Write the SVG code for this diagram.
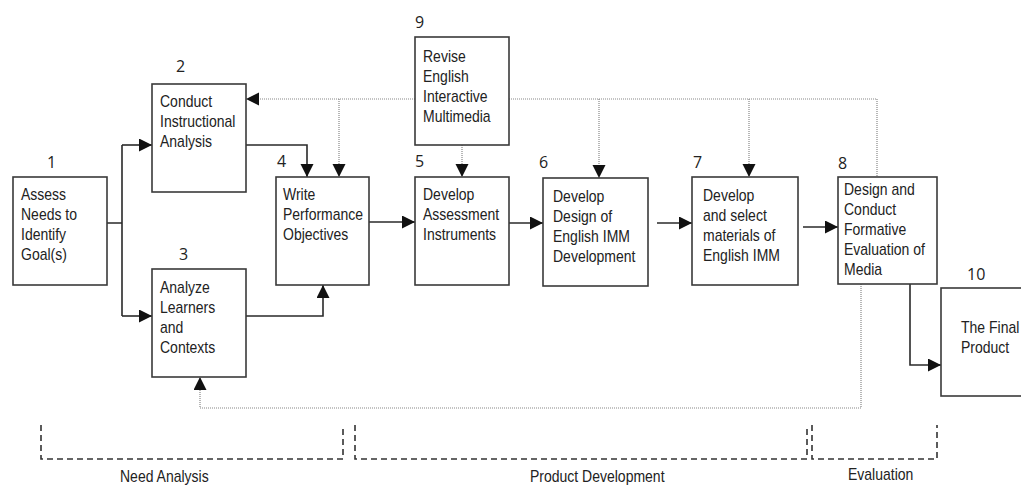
<svg xmlns="http://www.w3.org/2000/svg" width="1021" height="486" viewBox="0 0 1021 486">
<style>
.box{fill:#fff;stroke:#3a3a3a;stroke-width:1.6}
.t{font-family:"Liberation Sans",Arial,sans-serif;font-size:14px;fill:#222}
.n{font-family:"Open Sans","DejaVu Sans",sans-serif;font-size:16px;fill:#222}
.solid{fill:none;stroke:#2a2a2a;stroke-width:1.6}
.dot{fill:none;stroke:#888;stroke-width:1.2;stroke-dasharray:1 1}
.dash{fill:none;stroke:#333;stroke-width:1.6;stroke-dasharray:6 4}
</style>
<defs>
<marker id="ah" markerUnits="userSpaceOnUse" markerWidth="14" markerHeight="14" refX="13" refY="6.5" orient="auto">
<path d="M0,0 L13,6.5 L0,13 Z" fill="#111"/>
</marker>
</defs>
<rect width="1021" height="486" fill="#fff"/>
<g id="connectors">
<path class="solid" d="M107,223 H122 M122,145 V316"/>
<path class="solid" d="M122,145 H152" marker-end="url(#ah)"/>
<path class="solid" d="M122,316 H152" marker-end="url(#ah)"/>
<path class="solid" d="M246,145 H307 V177" marker-end="url(#ah)"/>
<path class="solid" d="M246,316 H323 V285" marker-end="url(#ah)"/>
<path class="solid" d="M369,222 H415" marker-end="url(#ah)"/>
<path class="solid" d="M509,223 H543" marker-end="url(#ah)"/>
<path class="solid" d="M657,223 H692" marker-end="url(#ah)"/>
<path class="solid" d="M803,227 H838" marker-end="url(#ah)"/>
<path class="solid" d="M910,284 V365 H941" marker-end="url(#ah)"/>
<path class="dot" d="M415,99 H246" marker-end="url(#ah)"/>
<path class="dot" d="M509,99 H877 V177"/>
<path class="dot" d="M339,99 V177" marker-end="url(#ah)"/>
<path class="dot" d="M462,145 V177" marker-end="url(#ah)"/>
<path class="dot" d="M599,99 V178" marker-end="url(#ah)"/>
<path class="dot" d="M749,99 V177" marker-end="url(#ah)"/>
<path class="dot" d="M861,284 V408 H200 V377" marker-end="url(#ah)"/>
</g>
<g id="n1">
<rect class="box" x="13" y="177" width="94" height="108"/>
<text class="n" x="47" y="168">1</text>
<text class="t" transform="translate(21,200) scale(1,1.2)"><tspan x="0" y="0">Assess</tspan><tspan x="0" dy="16.67">Needs to</tspan><tspan x="0" dy="16.67">Identify</tspan><tspan x="0" dy="16.67">Goal(s)</tspan></text>
</g>
<g id="n2">
<rect class="box" x="152" y="84" width="94" height="108"/>
<text class="n" x="176" y="72">2</text>
<text class="t" transform="translate(160,107) scale(1,1.2)"><tspan x="0" y="0">Conduct</tspan><tspan x="0" dy="16.67">Instructional</tspan><tspan x="0" dy="16.67">Analysis</tspan></text>
</g>
<g id="n3">
<rect class="box" x="152" y="269" width="94" height="108"/>
<text class="n" x="179" y="260">3</text>
<text class="t" transform="translate(160,293) scale(1,1.2)"><tspan x="0" y="0">Analyze</tspan><tspan x="0" dy="16.67">Learners</tspan><tspan x="0" dy="16.67">and</tspan><tspan x="0" dy="16.67">Contexts</tspan></text>
</g>
<g id="n4">
<rect class="box" x="276" y="177" width="93" height="108"/>
<text class="n" x="277" y="167">4</text>
<text class="t" transform="translate(283,200) scale(1,1.2)"><tspan x="0" y="0">Write</tspan><tspan x="0" dy="16.67">Performance</tspan><tspan x="0" dy="16.67">Objectives</tspan></text>
</g>
<g id="n9">
<rect class="box" x="415" y="37" width="94" height="108"/>
<text class="n" x="415" y="28">9</text>
<text class="t" transform="translate(423,62) scale(1,1.2)"><tspan x="0" y="0">Revise</tspan><tspan x="0" dy="16.67">English</tspan><tspan x="0" dy="16.67">Interactive</tspan><tspan x="0" dy="16.67">Multimedia</tspan></text>
</g>
<g id="n5">
<rect class="box" x="415" y="177" width="94" height="108"/>
<text class="n" x="415" y="167">5</text>
<text class="t" transform="translate(423,200) scale(1,1.2)"><tspan x="0" y="0">Develop</tspan><tspan x="0" dy="16.67">Assessment</tspan><tspan x="0" dy="16.67">Instruments</tspan></text>
</g>
<g id="n6">
<rect class="box" x="543" y="178" width="105" height="108"/>
<text class="n" x="539" y="168">6</text>
<text class="t" transform="translate(553,202) scale(1,1.2)"><tspan x="0" y="0">Develop</tspan><tspan x="0" dy="16.67">Design of</tspan><tspan x="0" dy="16.67">English IMM</tspan><tspan x="0" dy="16.67">Development</tspan></text>
</g>
<g id="n7">
<rect class="box" x="692" y="177" width="106" height="108"/>
<text class="n" x="693" y="168">7</text>
<text class="t" transform="translate(703,201) scale(1,1.2)"><tspan x="0" y="0">Develop</tspan><tspan x="0" dy="16.67">and select</tspan><tspan x="0" dy="16.67">materials of</tspan><tspan x="0" dy="16.67">English IMM</tspan></text>
</g>
<g id="n8">
<rect class="box" x="838" y="177" width="99" height="107"/>
<text class="n" x="838" y="169">8</text>
<text class="t" transform="translate(844,195) scale(1,1.2)"><tspan x="0" y="0">Design and</tspan><tspan x="0" dy="16.67">Conduct</tspan><tspan x="0" dy="16.67">Formative</tspan><tspan x="0" dy="16.67">Evaluation of</tspan><tspan x="0" dy="16.67">Media</tspan></text>
</g>
<g id="n10">
<rect class="box" x="941" y="288" width="90" height="108"/>
<text class="n" x="967" y="280">10</text>
<text class="t" transform="translate(961,333) scale(1,1.2)"><tspan x="0" y="0">The Final</tspan><tspan x="0" dy="16.67">Product</tspan></text>
</g>
<g id="phases">
<path class="dash" d="M41,425 V459 H343 V425"/>
<path class="dash" d="M355,425 V459 H807 V425"/>
<path class="dash" d="M812,425 V459 H937 V425"/>
<text class="t" transform="translate(120,482) scale(1,1.2)">Need Analysis</text>
<text class="t" transform="translate(530,482) scale(1,1.2)">Product Development</text>
<text class="t" transform="translate(848,480) scale(1,1.2)">Evaluation</text>
</g>
</svg>
